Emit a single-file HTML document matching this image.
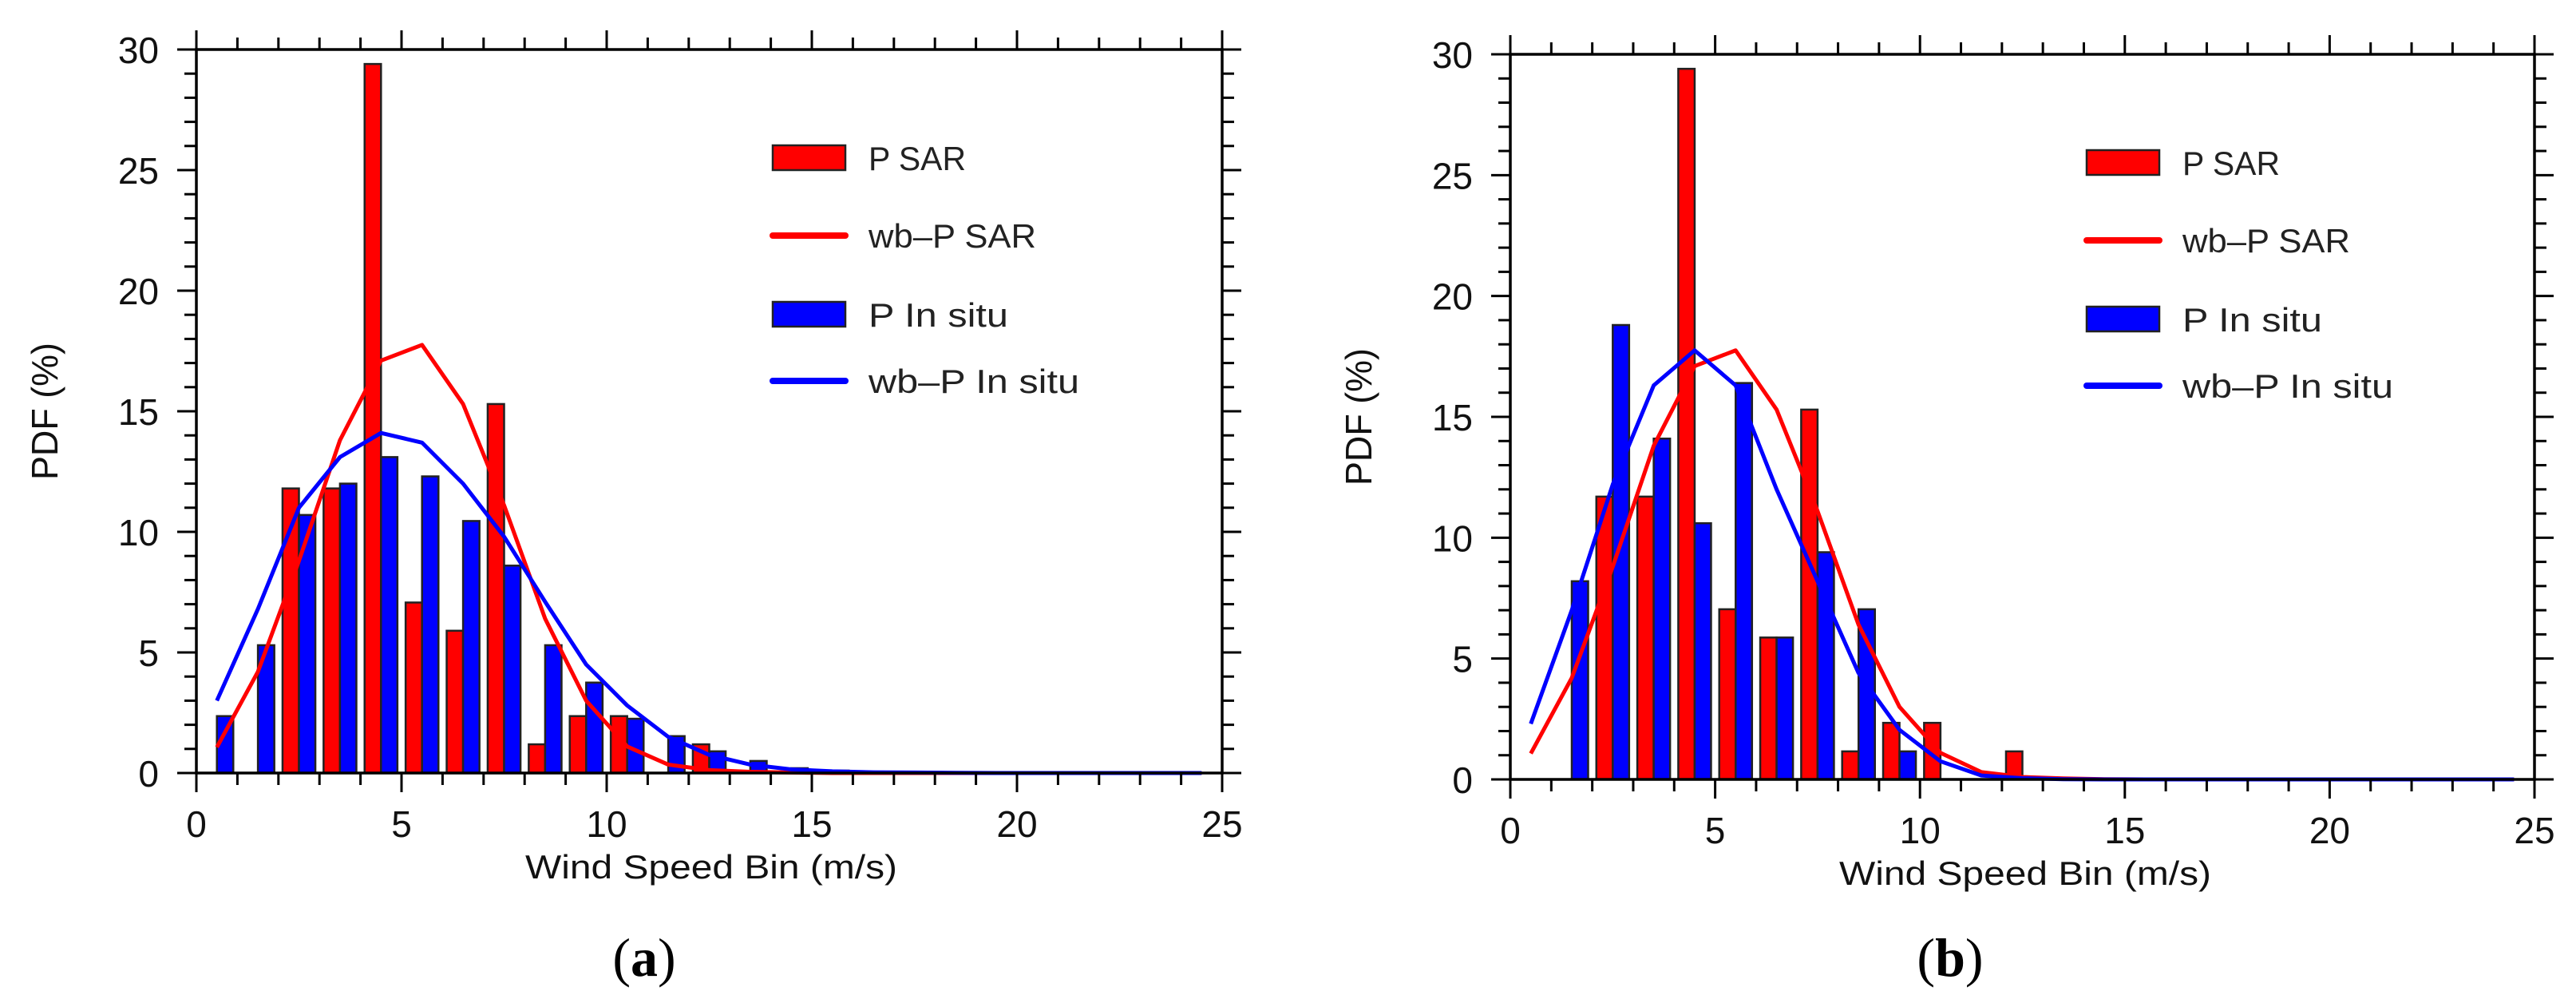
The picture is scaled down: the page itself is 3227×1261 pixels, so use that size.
<!DOCTYPE html>
<html><head><meta charset="utf-8"><style>
html,body{margin:0;padding:0;background:#fff;}
svg{display:block;font-family:"Liberation Sans",sans-serif;}
</style></head>
<body>
<svg id="fig" width="3227" height="1261" viewBox="0 0 3227 1261" xmlns="http://www.w3.org/2000/svg"></svg>
<script>
// ---- data ----
const bins = [0,1,2,3,4,5,6,7,8,9,10,11,12,13,14,15,16,17,18,19,20,21,22,23,24];
const xTicks = [0,5,10,15,20,25];
const yTicks = [0,5,10,15,20,25,30];
const sarBarsA = [0,0,11.8,11.8,29.4,7.07,5.9,15.3,1.19,2.36,2.36,0,1.19,0,0,0,0,0,0,0,0,0,0,0,0];
const insituBarsA = [2.36,5.3,10.7,12.0,13.1,12.3,10.45,8.6,5.3,3.75,2.25,1.53,0.9,0.5,0.2,0.1,0,0,0,0,0,0,0,0,0];
const sarLineA = [1.07,4.2,8.8,13.8,17.1,17.75,15.3,11.1,6.4,3.0,1.1,0.35,0.12,0.05,0.02,0,0,0,0,0,0,0,0,0,0];
const insituLineA = [3.0,6.8,11.0,13.1,14.1,13.7,12.0,9.8,7.1,4.5,2.8,1.5,0.75,0.35,0.15,0.07,0.03,0.02,0.01,0,0,0,0,0,0];
const sarBarsB = [0,0,11.7,11.7,29.4,7.04,5.87,15.3,1.16,2.34,2.34,0,1.16,0,0,0,0,0,0,0,0,0,0,0,0];
const insituBarsB = [0,8.2,18.8,14.1,10.6,16.4,5.87,9.4,7.04,1.16,0,0,0,0,0,0,0,0,0,0,0,0,0,0,0];
const sarLineB = [1.07,4.2,8.8,13.8,17.1,17.75,15.3,11.1,6.4,3.0,1.1,0.3,0.1,0.04,0.01,0,0,0,0,0,0,0,0,0,0];
const insituLineB = [2.3,7.0,12.2,16.3,17.75,16.3,12.0,8.2,4.4,2.05,0.75,0.16,0.05,0.01,0,0,0,0,0,0,0,0,0,0,0];

const NS = "http://www.w3.org/2000/svg";
const svg = document.getElementById('fig');
function mk(tag, attrs, parent){
  const e = document.createElementNS(NS, tag);
  for (const k in attrs) e.setAttribute(k, attrs[k]);
  (parent||svg).appendChild(e);
  return e;
}

function panel(p){
  const g = mk('g', {});
  
  
  const L=p.left, R=p.right, T=p.top, B=p.bottom;
  const sx = v => L + (R-L)*v/25;
  const sy = v => B - (B-T)*v/30;

  // bars
  for (let i=0;i<bins.length;i++){
    const b = bins[i];
    if (p.sarBars[i] > 0){
      const r = mk('rect',{x:sx(b+0.1),y:sy(p.sarBars[i]),width:sx(b+0.5)-sx(b+0.1),height:B-sy(p.sarBars[i]),fill:'#ff0000',stroke:'#222','stroke-width':2.5},g);
      
      
    }
    if (p.insBars[i] > 0){
      const r = mk('rect',{x:sx(b+0.5),y:sy(p.insBars[i]),width:sx(b+0.9)-sx(b+0.5),height:B-sy(p.insBars[i]),fill:'#0000ff',stroke:'#222','stroke-width':2.5},g);
      
      
    }
  }
  // lines
  const ptsS = bins.map((b,i)=>sx(b+0.5)+','+sy(p.sarLine[i])).join(' ');
  const ptsI = bins.map((b,i)=>sx(b+0.5)+','+sy(p.insLine[i])).join(' ');
  const l1 = mk('polyline',{points:ptsS,fill:'none',stroke:'#ff0000','stroke-width':5,'stroke-linejoin':'round'},g);
  
  
  const l2 = mk('polyline',{points:ptsI,fill:'none',stroke:'#0000ff','stroke-width':5,'stroke-linejoin':'round'},g);
  
  

  // frame
  const fr = mk('rect',{x:L,y:T,width:R-L,height:B-T,fill:'none',stroke:'#000','stroke-width':3.5},g);
  
  
  // ticks
  for (let v=0; v<=25; v++){
    const len = v%5===0 ? 24 : 15;
    const x = sx(v);
    mk('line',{x1:x,y1:B,x2:x,y2:B+len,stroke:'#000','stroke-width':3},g);
    mk('line',{x1:x,y1:T,x2:x,y2:T-len,stroke:'#000','stroke-width':3},g);
  }
  for (let v=0; v<=30; v++){
    const len = v%5===0 ? 24 : 15;
    const y = sy(v);
    mk('line',{x1:L,y1:y,x2:L-len,y2:y,stroke:'#000','stroke-width':3},g);
    mk('line',{x1:R,y1:y,x2:R+len,y2:y,stroke:'#000','stroke-width':3},g);
  }
  xTicks.forEach(v=>{
    const t = mk('text',{x:sx(v),y:B+80,'font-size':46,'text-anchor':'middle',fill:'#111'},g);
    t.textContent = v;
    
    
  });
  yTicks.forEach(v=>{
    const t = mk('text',{x:L-47,y:sy(v)+17,'font-size':46,'text-anchor':'end',fill:'#111'},g);
    t.textContent = v;
    
    
  });
  const xt = mk('text',{x:L+412,y:B+132,'font-size':42,textLength:466,lengthAdjust:'spacingAndGlyphs',fill:'#111'},g);
  xt.textContent = 'Wind  Speed  Bin  (m/s)';
  
  
  const yt = mk('text',{x:0,y:0,'font-size':46,'text-anchor':'middle',textLength:172,lengthAdjust:'spacingAndGlyphs',fill:'#111',transform:`translate(${p.ytX},${(T+B)/2-0}) rotate(-90)`},g);
  yt.textContent = 'PDF  (%)';
  
  

  // legend
  const lx = L+722, ly = T+120;
  const items = [
    {t:'P  SAR', type:'bar', c:'#ff0000', y:ly, w:122},
    {t:'wb\u2013P  SAR', type:'line', c:'#ff0000', y:ly+97, w:210},
    {t:'P  In  situ', type:'bar', c:'#0000ff', y:ly+196, w:175},
    {t:'wb\u2013P  In  situ', type:'line', c:'#0000ff', y:ly+279, w:264}
  ];
  items.forEach(it=>{
    const lg = mk('g',{},g);
    
    
    if (it.type==='bar') mk('rect',{x:lx,y:it.y,width:91,height:31,fill:it.c,stroke:'#222','stroke-width':2.5},lg);
    else mk('line',{x1:lx,y1:it.y+16,x2:lx+91,y2:it.y+16,stroke:it.c,'stroke-width':8,'stroke-linecap':'round'},lg);
    const tx = mk('text',{x:lx+120,y:it.y+31,'font-size':42,textLength:it.w,lengthAdjust:'spacingAndGlyphs',fill:'#222'},lg);
    tx.textContent = it.t;
  });

  const cap = mk('text',{x:p.capX,y:1222,'font-size':68,'text-anchor':'middle','font-family':'"Liberation Serif",serif',fill:'#000'},g);
  cap.innerHTML = '(<tspan font-weight="bold">'+p.cap+'</tspan>)';
  
  
}

panel({name:'panel-a',left:246,right:1531,top:62,bottom:968,sarBars:sarBarsA,insBars:insituBarsA,sarLine:sarLineA,insLine:insituLineA,ytX:72,capX:807,cap:'a'});
panel({name:'panel-b',left:1892,right:3175,top:68,bottom:976,sarBars:sarBarsB,insBars:insituBarsB,sarLine:sarLineB,insLine:insituLineB,ytX:1718,capX:2443,cap:'b'});
</script>
</body></html>
